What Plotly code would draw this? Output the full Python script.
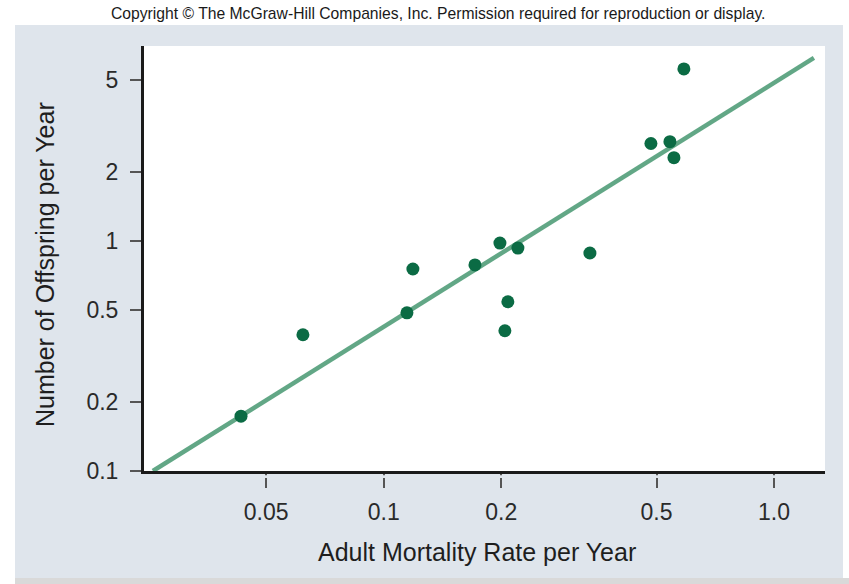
import plotly.graph_objects as go

# Species data: adult mortality vs. offspring produced per year (log-log)
mortality = [0.0431, 0.0621, 0.1147, 0.1188, 0.1713, 0.1985, 0.2207,
             0.208, 0.2044, 0.3375, 0.4837, 0.541, 0.554, 0.5875]
offspring = [0.173, 0.391, 0.487, 0.755, 0.786, 0.978, 0.931,
             0.544, 0.407, 0.886, 2.65, 2.70, 2.30, 5.59]

# End points of the fitted regression line
fit_mortality = [0.02563, 1.265]
fit_offspring = [0.100, 6.24]

x_ticks = [0.05, 0.1, 0.2, 0.5, 1.0]
x_tick_text = ["0.05", "0.1", "0.2", "0.5", "1.0"]
y_ticks = [0.1, 0.2, 0.5, 1, 2, 5]
y_tick_text = ["0.1", "0.2", "0.5", "1", "2", "5"]

W, H = 849, 584
L, R, T, B = 144, 24, 46, 113
pw, ph = W - L - R, H - T - B


def px(x):
    return (x - L) / pw


def py(y):
    return (H - B - y) / ph


PANEL = "#dfe5ec"
FONT = "Liberation Sans, Arial, sans-serif"

fig = go.Figure()
fig.add_trace(go.Scatter(
    x=fit_mortality, y=fit_offspring, mode="lines",
    line=dict(color="#62a786", width=4.5), hoverinfo="skip",
))
fig.add_trace(go.Scatter(
    x=mortality, y=offspring, mode="markers",
    marker=dict(color="#0b6b44", size=13, line=dict(width=0)),
))

shapes = [
    # grey drop shadow under the panel
    dict(type="rect", xref="paper", yref="paper", x0=px(15), x1=px(849),
         y0=py(584), y1=py(578), fillcolor="#d9d9d9", line_width=0, layer="below"),
    # blue-grey panel
    dict(type="rect", xref="paper", yref="paper", x0=px(15), x1=px(843),
         y0=py(578), y1=py(25), fillcolor=PANEL, line_width=0, layer="below"),
    # white plotting area
    dict(type="rect", xref="paper", yref="paper", x0=0, x1=1,
         y0=0, y1=1, fillcolor="white", line_width=0, layer="below"),
    # small gap between the x axis line and its tick marks
    dict(type="rect", xref="paper", yref="paper", x0=0.005, x1=1,
         y0=py(478.0), y1=py(475.2), fillcolor=PANEL, line_width=0, layer="above"),
]

annotations = [
    dict(text="Copyright \u00a9 The McGraw-Hill Companies, Inc. Permission required for reproduction or display.",
         xref="paper", yref="paper", x=px(438), y=py(13), showarrow=False,
         xanchor="center", yanchor="middle",
         font=dict(family="Liberation Sans Narrow, Arial Narrow, sans-serif", size=15.7, color="#1a1a1a")),
    dict(text="Adult Mortality Rate per Year", xref="paper", yref="paper",
         x=px(477), y=py(552), showarrow=False, xanchor="center", yanchor="middle",
         font=dict(family=FONT, size=25, color="#1e1e1e")),
    dict(text="Number of Offspring per Year", xref="paper", yref="paper",
         x=px(45), y=py(265), showarrow=False, textangle=-90,
         xanchor="center", yanchor="middle",
         font=dict(family=FONT, size=25, color="#1e1e1e")),
]

fig.update_layout(
    width=W, height=H, autosize=False,
    margin=dict(l=L, r=R, t=T, b=B, pad=0),
    paper_bgcolor="white", plot_bgcolor="white",
    showlegend=False,
    shapes=shapes, annotations=annotations,
    xaxis=dict(
        type="log", range=[-1.614, 0.1305],
        tickmode="array", tickvals=x_ticks, ticktext=x_tick_text,
        ticks="outside", ticklen=14, tickwidth=1.6, tickcolor="#555555",
        showline=True, linecolor="#1a1a1a", linewidth=3,
        showgrid=False, zeroline=False,
        tickfont=dict(family=FONT, size=23, color="#2a2a2a"),
        ticklabelstandoff=4,
    ),
    yaxis=dict(
        type="log", range=[-1.0, 0.847],
        tickmode="array", tickvals=y_ticks, ticktext=y_tick_text,
        ticks="outside", ticklen=11, tickwidth=1.6, tickcolor="#555555",
        showline=True, linecolor="#1a1a1a", linewidth=3,
        showgrid=False, zeroline=False,
        tickfont=dict(family=FONT, size=23, color="#2a2a2a"),
        ticklabelstandoff=7,
    ),
)

fig.write_html("out.html")
